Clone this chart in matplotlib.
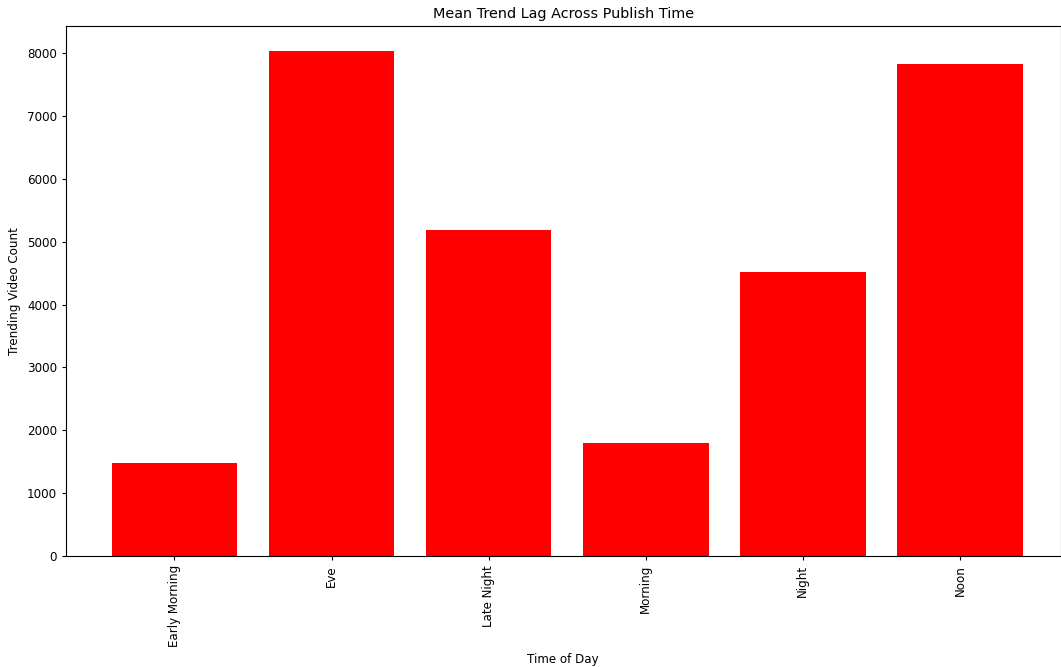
import matplotlib
matplotlib.use('Agg')
import matplotlib.pyplot as plt

times = ['Early Morning', 'Eve', 'Late Night', 'Morning', 'Night', 'Noon']
counts = [1487, 8032, 5190, 1798, 4513, 7825]

# reference looks like a scaled-down render, so text and ticks are a bit smaller
plt.rcParams['font.size'] = 8.6
plt.rcParams['xtick.major.size'] = 3
plt.rcParams['ytick.major.size'] = 3

fig, ax = plt.subplots(figsize=(10.61, 6.67), dpi=100)
fig.subplots_adjust(left=66 / 1061, right=1060.5 / 1061, top=1 - 26 / 667, bottom=1 - 556 / 667)

ax.bar(times, counts, color='red')
ax.set_xlim(-0.69, 5.64)
ax.set_title('Mean Trend Lag Across Publish Time', fontsize=10.4)
ax.set_xlabel('Time of Day')
ax.set_ylabel('Trending Video Count')
ax.set_xticks(range(len(times)))
ax.set_xticklabels(times, rotation=90)

fig.savefig('out.png', dpi=100)
